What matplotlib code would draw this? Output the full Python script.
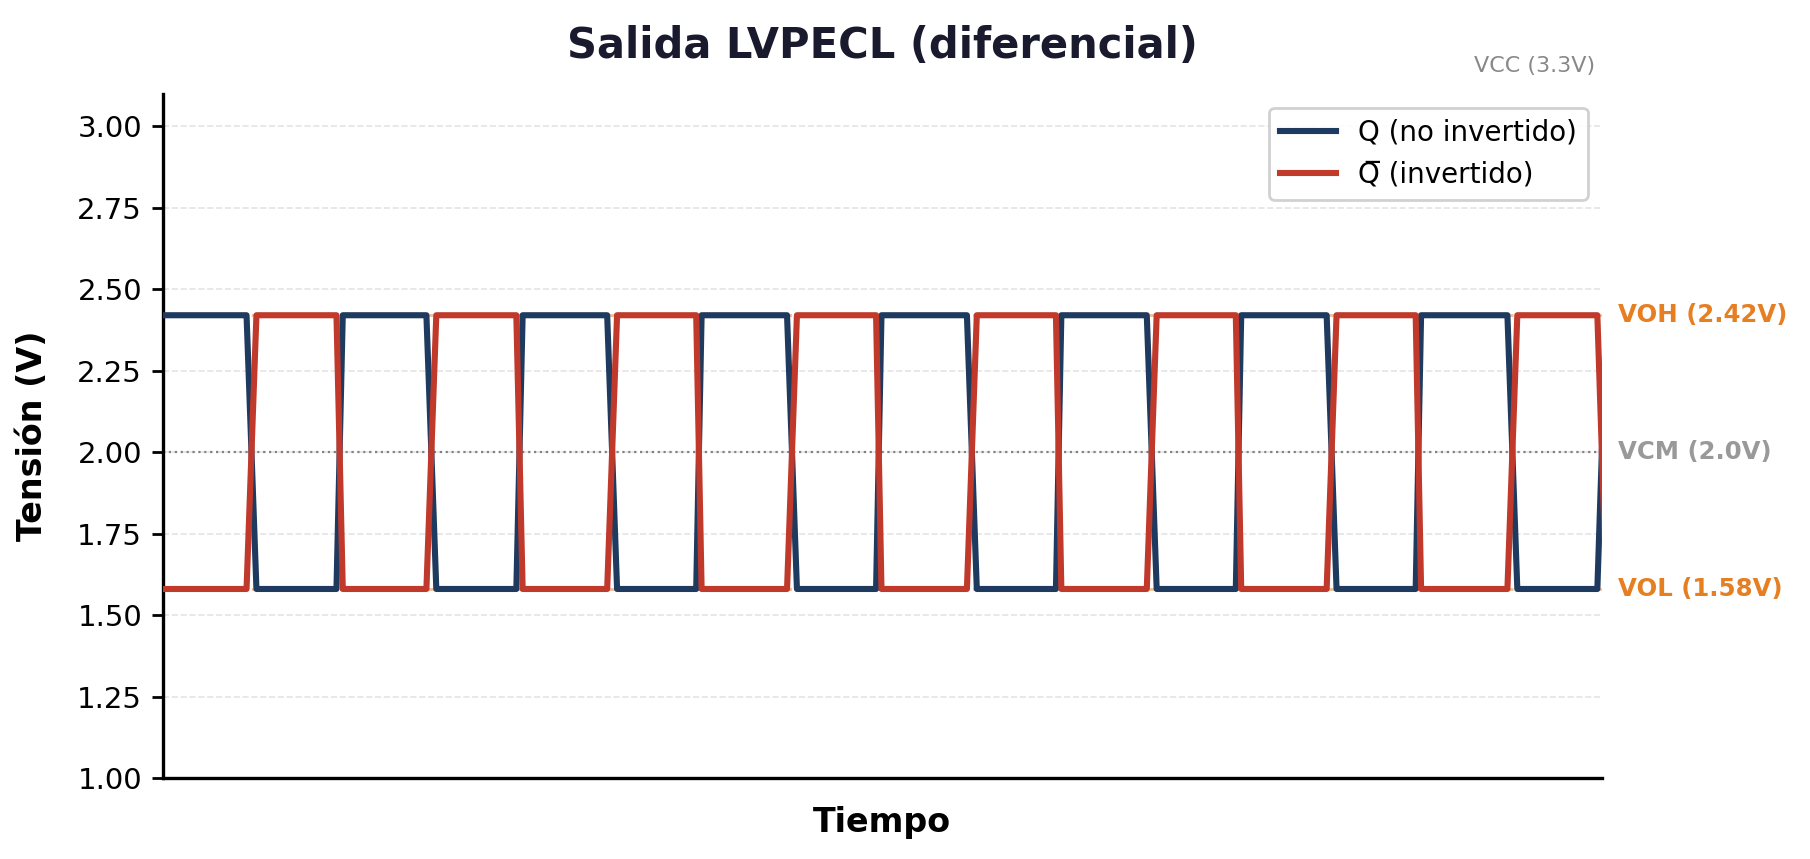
import matplotlib
matplotlib.use("Agg")
import matplotlib.pyplot as plt
import numpy as np

# niveles LVPECL
VOH = 2.42
VOL = 1.58
VCM = 2.0
VCC = 3.3

# flancos (en medios periodos): inicio y fin de cada transicion de Q
edge_start = [0.93, 1.93, 2.93, 3.93, 4.94, 5.93, 6.94, 7.93,
              8.94, 9.93, 10.94, 11.93, 12.94, 13.93, 14.95, 15.95]
edge_end = [1.04, 2.00, 3.04, 4.00, 5.05, 5.99, 7.05, 7.99,
            9.05, 9.99, 11.05, 11.99, 13.05, 13.99, 15.06, 16.05]
q_start = VOH  # Q empieza en alto

c_q = '#1f3a5f'
c_qn = '#c0392b'
c_lvl = '#e67e22'
c_gray = '#999999'

# construir los vertices de la forma de onda
t = [0.0]
q = [q_start]
level = q_start
for s, e in zip(edge_start, edge_end):
    t.append(s)
    q.append(level)
    level = VOL if level == VOH else VOH
    t.append(e)
    q.append(level)
t = np.array(t)
q = np.array(q)
qn = VOH + VOL - q

fig = plt.figure(figsize=(9.05, 4.295), dpi=200)
ax = fig.add_axes([0.090, 0.0943, 0.795, 0.7967])

ax.axhline(VOH, color=c_lvl, lw=1.0, ls='--', alpha=0.5, zorder=1)
ax.axhline(VOL, color=c_lvl, lw=1.0, ls='--', alpha=0.5, zorder=1)
ax.axhline(VCM, color='#777777', lw=0.8, ls=':', alpha=0.9, zorder=1)

ax.plot(t, q, color=c_q, lw=2.2, label='Q (no invertido)', zorder=3)
ax.plot(t, qn, color=c_qn, lw=2.2, label='Q\u0305 (invertido)', zorder=3)

ax.set_xlim(0, 16)
ax.set_ylim(1.0, 3.1)
ax.set_yticks(np.arange(1.0, 3.01, 0.25))
ax.set_xticks([])
ax.tick_params(axis='y', labelsize=10.5, width=1.0, length=4)
ax.yaxis.grid(True, ls='--', color='#dddddd', lw=0.6, alpha=0.8)
ax.set_axisbelow(True)

for side in ['top', 'right']:
    ax.spines[side].set_visible(False)
for side in ['left', 'bottom']:
    ax.spines[side].set_linewidth(1.2)

ax.set_title('Salida LVPECL (diferencial)', fontsize=15, fontweight='bold',
             color='#1a1a2e', pad=13)
ax.set_xlabel('Tiempo', fontsize=12, fontweight='bold', labelpad=10)
ax.set_ylabel('Tensión (V)', fontsize=12, fontweight='bold', labelpad=10)

ax.text(16.18, VOH, 'VOH (2.42V)', color=c_lvl, fontsize=8.8, fontweight='bold',
        va='center', ha='left', clip_on=False)
ax.text(16.18, VCM, 'VCM (2.0V)', color=c_gray, fontsize=8.8, fontweight='bold',
        va='center', ha='left', clip_on=False)
ax.text(16.18, VOL, 'VOL (1.58V)', color=c_lvl, fontsize=8.8, fontweight='bold',
        va='center', ha='left', clip_on=False)
ax.text(15.92, 3.185, 'VCC (3.3V)', color='#888888', fontsize=8,
        va='center', ha='right', clip_on=False)

ax.legend(loc='upper right', fontsize=10, frameon=True, framealpha=0.9,
          edgecolor='#cccccc')

fig.savefig('out.png', dpi=200)
